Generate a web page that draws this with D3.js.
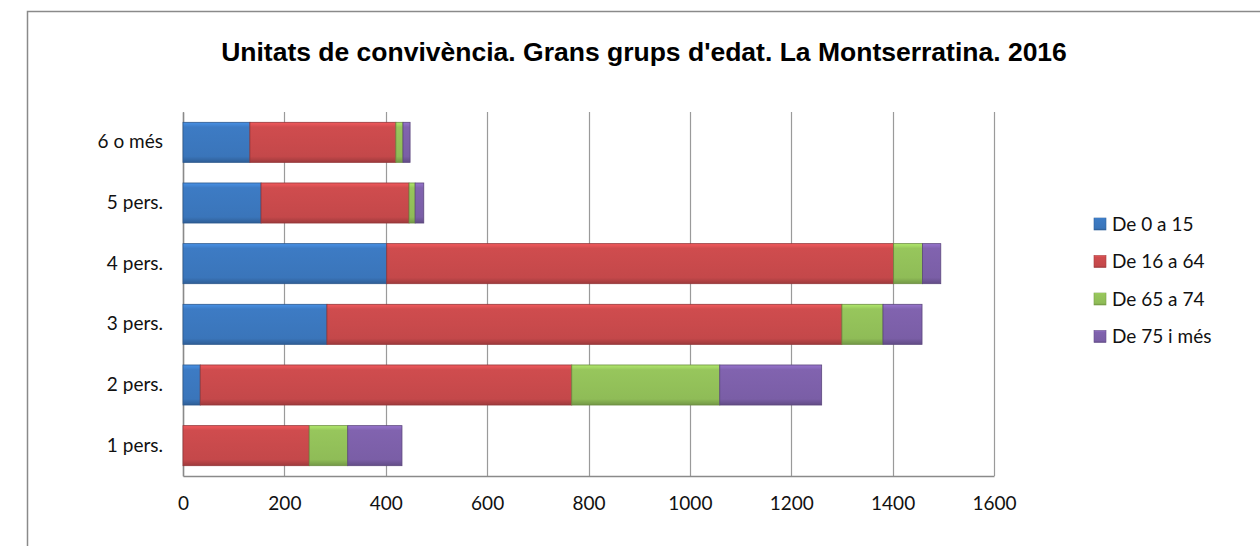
<!DOCTYPE html>
<html>
<head>
<meta charset="utf-8">
<script src="https://cdn.jsdelivr.net/npm/d3@7"></script>
<style>
    body { margin: 0; background: #fff; }
    #chart { width: 1260px; height: 546px; }
    .axis text { font-family: Lato, "Open Sans", sans-serif; font-size: 19px; fill: #111; }
    .legend text { font-family: Lato, "Open Sans", sans-serif; font-size: 19px; fill: #111; }
</style>
</head>
<body>
<div id="chart"></div>
<script>
// categories, bottom to top as in the picture
const categories = ["1 pers.", "2 pers.", "3 pers.", "4 pers.", "5 pers.", "6 o més"];
const seriesNames = ["De 0 a 15", "De 16 a 64", "De 65 a 74", "De 75 i més"];
const age0to15 = [0, 34, 284, 402, 154, 132];
const age16to64 = [249, 733, 1016, 1000, 292, 288];
const age65to74 = [76, 292, 81, 57, 12, 14];
const age75plus = [107, 201, 77, 36, 17, 14];
const xTicks = [0, 200, 400, 600, 800, 1000, 1200, 1400, 1600];
const titleText = "Unitats de convivència. Grans grups d'edat. La Montserratina. 2016";

class StackedBars {
    constructor(parentElement) {
        this.parentElement = parentElement;
        this.initVis();
    }

    initVis() {
        let vis = this;

        vis.width = 1260;
        vis.height = 546;
        vis.plot = { left: 183, right: 994, top: 112, bottom: 476 };
        vis.colors = ["#3a75ba", "#c4484a", "#8fbc57", "#7a5ea6"];

        vis.svg = d3.select("#" + vis.parentElement).append("svg")
            .attr("width", vis.width)
            .attr("height", vis.height);

        // bevel-ish gradients, one per series
        let defs = vis.svg.append("defs");
        vis.colors.forEach((c, i) => {
            let g = defs.append("linearGradient")
                .attr("id", "grad" + i)
                .attr("x1", 0).attr("y1", 0).attr("x2", 0).attr("y2", 1);
            g.append("stop").attr("offset", "0%").attr("stop-color", d3.color(c).brighter(0.6));
            g.append("stop").attr("offset", "12%").attr("stop-color", d3.color(c).brighter(0.15));
            g.append("stop").attr("offset", "85%").attr("stop-color", c);
            g.append("stop").attr("offset", "100%").attr("stop-color", d3.color(c).darker(0.6));
        });

        // outer frame (only left and top edges show in the picture)
        vis.svg.append("path")
            .attr("d", "M27.5,546 L27.5,11.5 L1260,11.5")
            .attr("fill", "none")
            .attr("stroke", "#8a8a8a")
            .attr("stroke-width", 1.5);

        vis.svg.append("text")
            .attr("x", 644)
            .attr("y", 61)
            .attr("text-anchor", "middle")
            .style("font-family", "'Liberation Sans', Arial, sans-serif")
            .style("font-weight", "bold")
            .style("font-size", "26.5px")
            .text(titleText);

        vis.x = d3.scaleLinear()
            .domain([0, 1600])
            .range([vis.plot.left, vis.plot.right]);

        vis.y = d3.scaleBand()
            .domain(categories.slice().reverse())
            .range([vis.plot.top, vis.plot.bottom])
            .paddingInner(0.34)
            .paddingOuter(0.17);

        this.wrangleData();
    }

    wrangleData() {
        let vis = this;
        let cols = [age0to15, age16to64, age65to74, age75plus];
        vis.displayData = categories.map((c, i) => {
            let row = { cat: c };
            seriesNames.forEach((s, j) => row[s] = cols[j][i]);
            return row;
        });
        vis.stacked = d3.stack().keys(seriesNames)(vis.displayData);
        this.updateVis();
    }

    updateVis() {
        let vis = this;

        // gridlines
        vis.svg.append("g")
            .selectAll("line")
            .data(xTicks)
            .enter().append("line")
            .attr("x1", d => Math.round(vis.x(d)) + 0.5)
            .attr("x2", d => Math.round(vis.x(d)) + 0.5)
            .attr("y1", vis.plot.top)
            .attr("y2", vis.plot.bottom)
            .attr("stroke", "#9a9a9a")
            .attr("stroke-width", 1.2);

        // bottom axis
        let xAxis = d3.axisBottom(vis.x)
            .tickValues(xTicks)
            .tickFormat(d3.format("d"))
            .tickSize(0)
            .tickPadding(21);
        let gx = vis.svg.append("g")
            .attr("class", "x axis")
            .attr("transform", "translate(0," + vis.plot.bottom + ")")
            .call(xAxis);
        gx.select(".domain").attr("stroke", "#8a8a8a").attr("stroke-width", 1.5);

        // left axis
        let yAxis = d3.axisLeft(vis.y)
            .tickSize(0)
            .tickPadding(20);
        let gy = vis.svg.append("g")
            .attr("class", "y axis")
            .attr("transform", "translate(" + vis.plot.left + ",0)")
            .call(yAxis);
        gy.select(".domain").attr("stroke", "#8a8a8a").attr("stroke-width", 1.5);

        // stacked bars
        vis.svg.append("g")
            .selectAll("g")
            .data(vis.stacked)
            .enter().append("g")
            .attr("fill", (d, i) => "url(#grad" + i + ")")
            .attr("stroke", (d, i) => d3.color(vis.colors[i]).darker(0.8))
            .attr("stroke-width", 0.8)
            .selectAll("rect")
            .data(d => d.filter(p => p[1] - p[0] > 0))
            .enter().append("rect")
            .attr("x", d => vis.x(d[0]))
            .attr("y", d => vis.y(d.data.cat))
            .attr("width", d => vis.x(d[1]) - vis.x(d[0]))
            .attr("height", vis.y.bandwidth());

        // legend
        let legend = vis.svg.append("g")
            .attr("class", "legend")
            .selectAll("g")
            .data(seriesNames)
            .enter().append("g")
            .attr("transform", (d, i) => "translate(1094," + (224 + i * 37.5) + ")");

        legend.append("rect")
            .attr("x", 0)
            .attr("y", -6)
            .attr("width", 12)
            .attr("height", 12)
            .attr("fill", (d, i) => "url(#grad" + i + ")")
            .attr("stroke", (d, i) => d3.color(vis.colors[i]).darker(0.5))
            .attr("stroke-width", 0.6);

        legend.append("text")
            .attr("x", 18)
            .attr("y", 0)
            .attr("dy", "0.35em")
            .text(d => d);
    }
}

new StackedBars("chart");
</script>
</body>
</html>
